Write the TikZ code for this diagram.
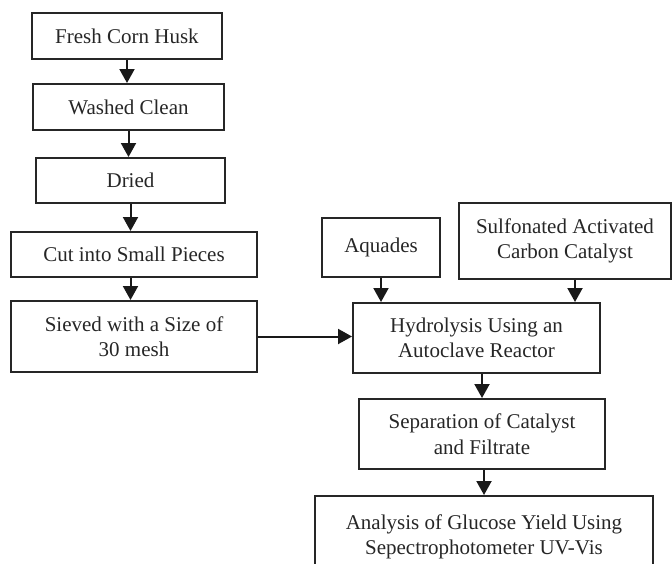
\documentclass[tikz,border=0pt]{standalone}
\usepackage{fontspec}
\setmainfont{Liberation Serif}
\usetikzlibrary{arrows.meta}
\begin{document}
\begin{tikzpicture}[x=1pt,y=-1pt,
  stepbox/.style={draw=black!85, line width=2pt, align=center, inner sep=0pt,
    text=black!85, font=\fontsize{21}{25.5}\selectfont},
  arr/.style={draw=black!90, line width=2pt, -{Triangle[width=15pt,length=14pt]}}]
\useasboundingbox (0,0) rectangle (672,563);
\clip (0,0) rectangle (672,563);
\node[stepbox, minimum width=190pt, minimum height=46pt] (b1) at (127,36) {Fresh Corn Husk};
\node[stepbox, minimum width=191pt, minimum height=46pt] (b2) at (128.5,107) {Washed Clean};
\node[stepbox, minimum width=189pt, minimum height=45pt] (b3) at (130.5,180.5) {Dried};
\node[stepbox, minimum width=246pt, minimum height=45pt] (b4) at (134,254.5) {Cut into Small Pieces};
\node[stepbox, minimum width=246pt, minimum height=71pt] (b5) at (134,336.5) {Sieved with a Size of\\30 mesh};
\node[stepbox, minimum width=118pt, minimum height=59pt] (aq) at (381,247.5) {Aquades};
\node[stepbox, minimum width=212pt, minimum height=76pt] (sc) at (565,241) {Sulfonated Activated\\Carbon Catalyst};
\node[stepbox, minimum width=247pt, minimum height=70pt] (hy) at (476.5,338) {Hydrolysis Using an\\Autoclave Reactor};
\node[stepbox, minimum width=246pt, minimum height=70pt] (sep) at (482,434) {Separation of Catalyst\\and Filtrate};
\node[stepbox, minimum width=338pt, minimum height=82pt] (an) at (484,537) {Analysis of Glucose Yield Using\\Sepectrophotometer UV-Vis};
\draw[arr] (b1.south) -- (b1.south |- b2.north);
\draw[arr] (b2.south) -- (b2.south |- b3.north);
\draw[arr] (b3.south) -- (b3.south |- b4.north);
\draw[arr] (b3.south |- b4.south) -- (b3.south |- b5.north);
\draw[arr] (b5.east) -- (b5.east -| hy.west);
\draw[arr] (aq.south) -- (aq.south |- hy.north);
\draw[arr] ([xshift=10pt]sc.south) -- ([xshift=10pt]sc.south |- hy.north);
\draw[arr] (sep.north |- hy.south) -- (sep.north);
\draw[arr] (an.north |- sep.south) -- (an.north);
\end{tikzpicture}
\end{document}
